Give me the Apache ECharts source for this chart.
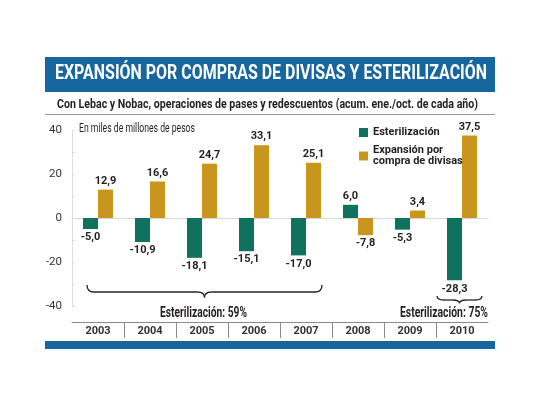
<!doctype html>
<html lang="es">
<head>
<meta charset="UTF-8">
<title>Expansión por compras de divisas y esterilización</title>
<style>
  html, body { margin: 0; padding: 0; background: #fff; }
  #chart { width: 540px; height: 405px; }
</style>
</head>
<body>
<div id="chart"></div>
<script src="https://cdn.jsdelivr.net/npm/echarts@6/dist/echarts.min.js"></script>
<script>
// datos (miles de millones de pesos)
var years = ['2003', '2004', '2005', '2006', '2007', '2008', '2009', '2010'];
var esterilizacion = [-5.0, -10.9, -18.1, -15.1, -17.0, 6.0, -5.3, -28.3];
var expansion = [12.9, 16.6, 24.7, 33.1, 25.1, -7.8, 3.4, 37.5];
var yTicks = [-40, -20, 0, 20, 40];

var VERDE = '#0f725e';
var ORO = '#c9961d';
var AZUL = '#17679e';
var TXT = '#231f20';
var FONT = '"Liberation Sans Narrow", Roboto, "DejaVu Sans Condensed", sans-serif';

function coma(v) { return v.toFixed(1).replace('.', ','); }

// para imitar la letra condensada: se mide el texto y se comprime a lo ancho
var ctx = document.createElement('canvas').getContext('2d');
function texto(str, font, x, y, ancho, color) {
  ctx.font = font;
  var s = ancho / ctx.measureText(str).width;
  return {
    type: 'text', x: x, y: y, scaleX: s, scaleY: 1,
    style: { text: str, fill: color, font: font, verticalAlign: 'top' }
  };
}

var myChart = echarts.init(document.getElementById('chart'));

var barLabel = {
  show: true,
  position: 'top',
  distance: 3,
  fontFamily: FONT,
  fontWeight: 'bold',
  fontSize: 11,
  color: TXT,
  formatter: function (p) { return coma(p.value); }
};

function serie(name, values, color) {
  return {
    name: name,
    type: 'bar',
    barWidth: 15,
    barGap: '0%',
    itemStyle: { color: color },
    data: values.map(function (v) {
      return { value: v, label: { position: v < 0 ? 'bottom' : 'top' } };
    }),
    label: barLabel
  };
}

// llaves decorativas, hechas con curvas y lineas
function llave(x1, x2, y, h) {
  var xc = (x1 + x2) / 2;
  var r = 7;
  var st = { stroke: '#222', lineWidth: 1.3, fill: null };
  return [
    { type: 'bezierCurve', shape: { x1: x1, y1: y - h, cpx1: x1, cpy1: y, x2: x1 + r, y2: y }, style: st },
    { type: 'line', shape: { x1: x1 + r, y1: y, x2: xc - r, y2: y }, style: st },
    { type: 'bezierCurve', shape: { x1: xc - r, y1: y, cpx1: xc, cpy1: y, x2: xc, y2: y + h * 0.8 }, style: st },
    { type: 'bezierCurve', shape: { x1: xc, y1: y + h * 0.8, cpx1: xc, cpy1: y, x2: xc + r, y2: y }, style: st },
    { type: 'line', shape: { x1: xc + r, y1: y, x2: x2 - r, y2: y }, style: st },
    { type: 'bezierCurve', shape: { x1: x2 - r, y1: y, cpx1: x2, cpy1: y, x2: x2, y2: y - h }, style: st }
  ];
}

var graficos = [
  { type: 'rect', shape: { x: 45, y: 57, width: 450, height: 35 }, style: { fill: AZUL } },
  texto('EXPANSIÓN POR COMPRAS DE DIVISAS Y ESTERILIZACIÓN', 'bold 20px ' + FONT, 55, 64, 432, '#fff'),
  texto('Con Lebac y Nobac, operaciones de pases y redescuentos (acum. ene./oct. de cada año)',
        'bold 13px ' + FONT, 57, 98, 421, TXT),
  { type: 'rect', shape: { x: 45, y: 114, width: 450, height: 1 }, style: { fill: '#9a9a9a' } },
  texto('En miles de millones de pesos', '12px ' + FONT, 79, 123, 116, TXT),
  texto('Esterilización: 59%', 'bold 14px ' + FONT, 160, 306, 87, TXT),
  texto('Esterilización: 75%', 'bold 14px ' + FONT, 400, 306, 88, TXT),
  { type: 'rect', shape: { x: 45, y: 341, width: 450, height: 8 }, style: { fill: AZUL } }
].concat(llave(87, 322, 292, 7), llave(437, 482, 300, 4));

var option = {
  backgroundColor: '#fff',
  animation: false,
  textStyle: { fontFamily: FONT },
  grid: [
    { left: 72, right: 52, top: 130, bottom: 99 },
    { left: 72, right: 52, top: 322, height: 16 }
  ],
  legend: {
    orient: 'vertical',
    left: 354,
    top: 122,
    itemWidth: 9,
    itemHeight: 9,
    itemGap: 7,
    icon: 'rect',
    textStyle: { fontFamily: FONT, fontSize: 11, fontWeight: 'bold', color: TXT, lineHeight: 11 },
    formatter: function (n) { return n.replace('por ', 'por\n'); },
    data: ['Esterilización', 'Expansión por compra de divisas']
  },
  xAxis: [
    {
      // eje de los datos: solo se ve la línea del cero
      type: 'category',
      gridIndex: 0,
      data: years,
      axisLine: { show: true, onZero: true, lineStyle: { color: '#d6d6d6', width: 1 } },
      axisTick: { show: false },
      axisLabel: { show: false }
    },
    {
      // fila de los años
      type: 'category',
      gridIndex: 1,
      data: years,
      position: 'top',
      axisLine: { show: true, onZero: false, lineStyle: { color: '#8a8a8a', width: 1 } },
      axisTick: { show: false },
      splitLine: { show: true, showMinLine: false, showMaxLine: false, lineStyle: { color: '#8a8a8a', width: 1 } },
      axisLabel: { inside: true, margin: 4, fontFamily: FONT, fontSize: 11, fontWeight: 'bold', color: '#333' }
    }
  ],
  yAxis: [
    {
      type: 'value',
      gridIndex: 0,
      min: -40,
      max: 40,
      interval: 20,
      axisLine: { show: true, lineStyle: { color: '#dcdcdc' } },
      axisTick: { show: true, inside: true, length: 3, lineStyle: { color: '#dcdcdc' } },
      minorTick: { show: true, splitNumber: 2, length: 3, lineStyle: { color: '#dcdcdc' } },
      splitLine: { show: false },
      axisLabel: { fontFamily: FONT, fontSize: 11.5, color: '#333', margin: 10 }
    },
    { type: 'value', gridIndex: 1, show: false }
  ],
  series: [
    serie('Esterilización', esterilizacion, VERDE),
    serie('Expansión por compra de divisas', expansion, ORO)
  ],
  graphic: graficos
};

myChart.setOption(option);
</script>
</body>
</html>
